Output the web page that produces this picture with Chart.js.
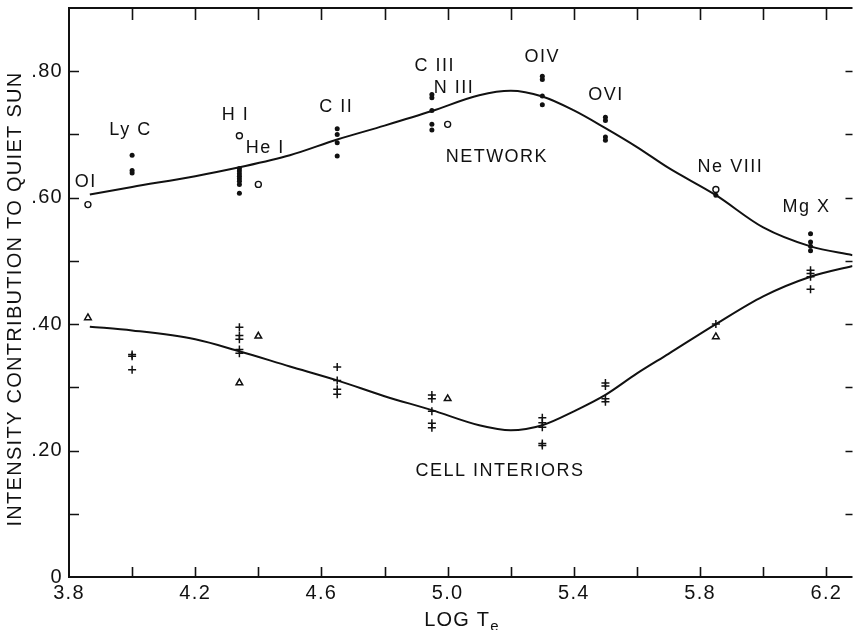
<!DOCTYPE html>
<html>
<head>
<meta charset="UTF-8">
<title>Network and cell interior contributions</title>
<script src="https://cdn.jsdelivr.net/npm/chart.js@4.4.1/dist/chart.umd.min.js"></script>
<style>
  html, body { margin: 0; padding: 0; background: #fff; }
  #chart { display: block; }
</style>
</head>
<body>
<canvas id="chart" width="858" height="630"></canvas>
<script>
// network measurements (filled dots), grouped by line
const dotLogT = [4.00, 4.34, 4.65, 4.95, 5.30, 5.50, 5.85, 6.15];
const dotValues = [
    [0.667, 0.643, 0.639],
    [0.646, 0.642, 0.638, 0.634, 0.630, 0.626, 0.621, 0.607],
    [0.709, 0.700, 0.687, 0.666],
    [0.763, 0.758, 0.738, 0.716, 0.707],
    [0.792, 0.787, 0.761, 0.747],
    [0.727, 0.722, 0.696, 0.691],
    [0.604],
    [0.543, 0.530, 0.523, 0.516]
];

// network, other observers (open circles)
const circleLogT = [3.86, 4.34, 4.40, 5.00, 5.85];
const circleValues = [0.589, 0.698, 0.621, 0.716, 0.613];

// cell interiors (crosses), grouped by line
const plusLogT = [4.00, 4.34, 4.65, 4.95, 5.30, 5.50, 5.85, 6.15];
const plusValues = [
    [0.352, 0.349, 0.328],
    [0.395, 0.382, 0.376, 0.360, 0.354],
    [0.332, 0.311, 0.297, 0.289],
    [0.288, 0.282, 0.262, 0.243, 0.236],
    [0.252, 0.244, 0.237, 0.211, 0.208],
    [0.307, 0.302, 0.282, 0.277],
    [0.400],
    [0.485, 0.480, 0.475, 0.455]
];

// cell interiors, other observers (open triangles)
const triangleLogT = [3.86, 4.34, 4.40, 5.00, 5.85];
const triangleValues = [0.410, 0.307, 0.381, 0.282, 0.380];

// smooth fitted curves
const curveLogT = [3.866, 4.0, 4.2, 4.34, 4.5, 4.65, 4.8, 4.95, 5.1, 5.2, 5.3, 5.4, 5.5, 5.6, 5.7, 5.85, 6.0, 6.15, 6.283];
const networkCurve = [0.605, 0.617, 0.634, 0.648, 0.667, 0.692, 0.714, 0.737, 0.762, 0.769, 0.760, 0.738, 0.710, 0.680, 0.647, 0.604, 0.553, 0.523, 0.509];
const cellCurve = [0.396, 0.390, 0.376, 0.357, 0.333, 0.311, 0.286, 0.264, 0.240, 0.232, 0.240, 0.262, 0.288, 0.322, 0.353, 0.400, 0.444, 0.475, 0.492];

// in-plot text, anchored in data units
const plotLabels = [
    { text: 'OI', x: 3.853, y: 0.624 },
    { text: 'Ly C', x: 3.995, y: 0.707 },
    { text: 'H I', x: 4.328, y: 0.731 },
    { text: 'He I', x: 4.422, y: 0.678 },
    { text: 'C II', x: 4.647, y: 0.744 },
    { text: 'C III', x: 4.959, y: 0.809 },
    { text: 'N III', x: 5.020, y: 0.773 },
    { text: 'NETWORK', x: 5.156, y: 0.664 },
    { text: 'OIV', x: 5.300, y: 0.823 },
    { text: 'OVI', x: 5.502, y: 0.762 },
    { text: 'Ne VIII', x: 5.896, y: 0.649 },
    { text: 'Mg X', x: 6.137, y: 0.585 },
    { text: 'CELL INTERIORS', x: 5.166, y: 0.168 }
];

const INK = '#111';
const FONT = '"Liberation Sans", Arial, Helvetica, sans-serif';

function groupPoints(xs, groups) {
    return xs.flatMap((x, i) => groups[i].map(y => ({ x: x, y: y })));
}
function pairPoints(xs, ys) {
    return xs.map((x, i) => ({ x: x, y: ys[i] }));
}

// frame with inward ticks, text labels and axis titles
const framePlugin = {
    id: 'frame',
    beforeDraw(chart) {
        chart.ctx.letterSpacing = '1.3px';
    },
    afterDraw(chart) {
        const { ctx, chartArea: a, scales: { x, y } } = chart;
        ctx.save();
        ctx.strokeStyle = INK;
        ctx.lineWidth = 2;
        ctx.beginPath();
        ctx.moveTo(a.right, a.top);
        ctx.lineTo(a.left, a.top);
        ctx.lineTo(a.left, a.bottom);
        ctx.lineTo(a.right, a.bottom);
        ctx.stroke();

        ctx.lineWidth = 1.6;
        ctx.beginPath();
        x.ticks.forEach(t => {
            const px = Math.round(x.getPixelForValue(t.value)) + 0.5;
            if (px < a.left + 3) return;
            ctx.moveTo(px, a.bottom); ctx.lineTo(px, a.bottom - 10);
            ctx.moveTo(px, a.top); ctx.lineTo(px, a.top + 12);
        });
        y.ticks.forEach(t => {
            const py = Math.round(y.getPixelForValue(t.value)) + 0.5;
            if (py > a.bottom - 3 || py < a.top + 3) return;
            ctx.moveTo(a.left, py); ctx.lineTo(a.left + 10, py);
            ctx.moveTo(a.right, py); ctx.lineTo(a.right - 7, py);
        });
        ctx.stroke();

        ctx.fillStyle = INK;
        ctx.letterSpacing = '1.5px';
        ctx.font = '18px ' + FONT;
        ctx.textAlign = 'center';
        ctx.textBaseline = 'middle';
        plotLabels.forEach(l => {
            ctx.fillText(l.text, x.getPixelForValue(l.x), y.getPixelForValue(l.y));
        });

        // x title with subscript e
        ctx.letterSpacing = '1.2px';
        ctx.textAlign = 'left';
        ctx.textBaseline = 'alphabetic';
        ctx.font = '20px ' + FONT;
        const main = 'LOG T';
        const wMain = ctx.measureText(main).width;
        ctx.font = '15px ' + FONT;
        const wSub = ctx.measureText('e').width;
        const x0 = 462 - (wMain + wSub) / 2;
        ctx.font = '20px ' + FONT;
        ctx.fillText(main, x0, 626);
        ctx.font = '15px ' + FONT;
        ctx.fillText('e', x0 + wMain, 631);

        // y title
        ctx.translate(15, 299);
        ctx.rotate(-Math.PI / 2);
        ctx.font = '20px ' + FONT;
        ctx.letterSpacing = '1.3px';
        ctx.textAlign = 'center';
        ctx.textBaseline = 'middle';
        ctx.fillText('INTENSITY CONTRIBUTION TO QUIET SUN', 0, 0);
        ctx.restore();
    }
};

const markerBase = { showLine: false, borderColor: INK };

new Chart(document.getElementById('chart'), {
    type: 'scatter',
    data: {
        datasets: [
            {
                data: pairPoints(curveLogT, networkCurve),
                showLine: true, borderColor: INK, borderWidth: 2,
                pointRadius: 0, cubicInterpolationMode: 'monotone'
            },
            {
                data: pairPoints(curveLogT, cellCurve),
                showLine: true, borderColor: INK, borderWidth: 2,
                pointRadius: 0, cubicInterpolationMode: 'monotone'
            },
            Object.assign({}, markerBase, {
                data: groupPoints(dotLogT, dotValues),
                pointStyle: 'circle', pointRadius: 2.5,
                backgroundColor: INK, borderWidth: 0
            }),
            Object.assign({}, markerBase, {
                data: pairPoints(circleLogT, circleValues),
                pointStyle: 'circle', pointRadius: 3,
                backgroundColor: '#fff', borderWidth: 1.4
            }),
            Object.assign({}, markerBase, {
                data: groupPoints(plusLogT, plusValues),
                pointStyle: 'cross', pointRadius: 4, borderWidth: 1.5
            }),
            Object.assign({}, markerBase, {
                data: pairPoints(triangleLogT, triangleValues),
                pointStyle: 'triangle', pointRadius: 3.8,
                backgroundColor: '#fff', borderWidth: 1.5
            })
        ]
    },
    options: {
        responsive: false,
        animation: false,
        layout: { padding: { top: 8, right: 0, left: 0, bottom: 0 } },
        plugins: { legend: { display: false }, tooltip: { enabled: false } },
        scales: {
            x: {
                type: 'linear',
                min: 3.8,
                max: 6.283,
                grid: { display: false, drawTicks: false },
                border: { display: false },
                ticks: {
                    stepSize: 0.2,
                    includeBounds: false,
                    autoSkip: false,
                    maxRotation: 0,
                    padding: 4,
                    color: INK,
                    font: { family: FONT, size: 20 },
                    callback: v => {
                        const k = Math.round(v * 10);
                        return (k - 38) % 4 === 0 ? (k / 10).toFixed(1) : '';
                    }
                },
                afterFit: s => { s.height = 53; s.paddingLeft = 0; s.paddingRight = 0; }
            },
            y: {
                min: 0,
                max: 0.9,
                grid: { display: false, drawTicks: false },
                border: { display: false },
                ticks: {
                    stepSize: 0.1,
                    autoSkip: false,
                    padding: 6,
                    color: INK,
                    font: { family: FONT, size: 20 },
                    callback: v => {
                        const k = Math.round(v * 10);
                        if (k % 2) return '';
                        return k === 0 ? '0' : '.' + (k * 10);
                    }
                },
                afterFit: s => { s.width = 69; s.paddingTop = 0; s.paddingBottom = 0; }
            }
        }
    },
    plugins: [framePlugin]
});
</script>
</body>
</html>
